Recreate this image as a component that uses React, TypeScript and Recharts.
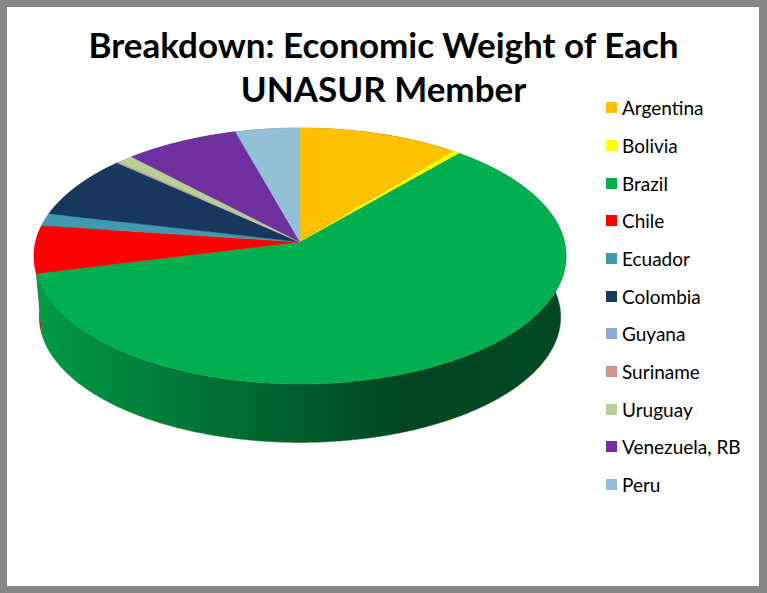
import React from "react";
import { PieChart, Pie, Legend } from "recharts";

const names = ["Argentina", "Bolivia", "Brazil", "Chile", "Ecuador", "Colombia", "Guyana", "Suriname", "Uruguay", "Venezuela, RB", "Peru"];
const shares = [10.8, 0.5, 59.8, 6.0, 1.6, 8.0, 0.05, 0.1, 1.1, 7.7, 4.35];
const colors = ["#FFC000", "#FFFF00", "#00B050", "#FF0000", "#4198AF", "#17375E", "#8EA9CF", "#D19392", "#B9CD96", "#7030A0", "#93C0D5"];

const data = names.map((name, i) => ({ name, value: shares[i], fill: colors[i] }));
// walls get painted back to front so Brazil ends up over Chile's sliver
const wallData = [...data].reverse();

// pie tilt
const SQUASH = 128 / 266;
const APEX_SHIFT = 14 / 128;
const DEPTH = 61;
const BOTTOM_SCALE = 0.98;

// circle -> tilted ellipse, with the centre pushed back a bit for perspective
function rimPoint(cx: number, cy: number, r: number, deg: number) {
  const t = (deg * Math.PI) / 180;
  const u = Math.sin(t);
  const v = Math.cos(t);
  const d = 1 + APEX_SHIFT * v;
  const X = (u * Math.sqrt(1 - APEX_SHIFT * APEX_SHIFT)) / d;
  const Y = (v + APEX_SHIFT) / d;
  return [cx + r * X, cy - r * SQUASH * Y];
}

function arcPoints(cx: number, cy: number, r: number, from: number, to: number) {
  const pts: number[][] = [];
  const steps = Math.max(2, Math.ceil((to - from) / 0.5));
  for (let i = 0; i <= steps; i++) pts.push(rimPoint(cx, cy, r, from + ((to - from) * i) / steps));
  return pts;
}

const toPath = (pts: number[][]) => "M" + pts.map((p) => `${p[0].toFixed(2)},${p[1].toFixed(2)}`).join("L") + "Z";

function shade(hex: string, k: number) {
  const n = parseInt(hex.slice(1), 16);
  const c = [(n >> 16) & 255, (n >> 8) & 255, n & 255].map((v) => Math.round(v * k));
  return `rgb(${c.join(",")})`;
}

function angles(props: any) {
  const a = 90 - Math.max(props.startAngle, props.endAngle);
  const b = 90 - Math.min(props.startAngle, props.endAngle);
  return [a, b];
}

function TopFace(props: any) {
  const { cx, cy, outerRadius, fill } = props;
  const [a, b] = angles(props);
  const apex = [cx, cy - outerRadius * SQUASH * APEX_SHIFT];
  const d = toPath([apex, ...arcPoints(cx, cy, outerRadius, a, b)]);
  return <path d={d} fill={fill} stroke={fill} strokeWidth={0.4} />;
}

function WallFace(props: any) {
  const { cx, cy, outerRadius, fill, name } = props;
  const [a, b] = angles(props);
  const top = arcPoints(cx, cy, outerRadius, a, b);
  const bottom = arcPoints(cx, cy + DEPTH, outerRadius * BOTTOM_SCALE, a, b).reverse();
  const id = "wall-" + String(name).replace(/\W/g, "");
  return (
    <g>
      <defs>
        <linearGradient id={id} gradientUnits="userSpaceOnUse" x1={cx - outerRadius} x2={cx + outerRadius} y1={0} y2={0}>
          <stop offset="0" stopColor={shade(fill, 0.88)} />
          <stop offset="0.69" stopColor={shade(fill, 0.4)} />
          <stop offset="1" stopColor={shade(fill, 0.42)} />
        </linearGradient>
      </defs>
      <path d={toPath([...top, ...bottom])} fill={`url(#${id})`} stroke={`url(#${id})`} strokeWidth={0.4} />
    </g>
  );
}

function LegendList({ payload }: any) {
  // two pies feed the legend, keep one entry per country in data order
  const items = names.map((n) => (payload || []).find((p: any) => p.value === n)).filter(Boolean);
  return (
    <div>
      {items.map((item: any) => (
        <div key={item.value} style={{ display: "flex", alignItems: "center", height: 37.7 }}>
          <span style={{ width: 11, height: 11, background: item.color, marginRight: 5, flex: "none" }} />
          <span style={{ whiteSpace: "nowrap" }}>{item.value}</span>
        </div>
      ))}
    </div>
  );
}

export default function App() {
  return (
    <div style={{ position: "relative", width: 767, height: 593, background: "#fff", fontFamily: "Lato, sans-serif", overflow: "hidden" }}>
      <style>{"body{margin:0}"}</style>
      <div style={{ position: "absolute", inset: 0, boxSizing: "border-box", borderStyle: "solid", borderColor: "#868686", borderWidth: "7px 8px 7px 7px" }} />
      <div style={{ position: "absolute", left: 0, top: 22, width: 767, textAlign: "center", fontSize: 35, fontWeight: 700, lineHeight: "44px", color: "#000" }}>
        <div>Breakdown: Economic Weight of Each</div>
        <div>UNASUR Member</div>
      </div>
      <div style={{ position: "absolute", left: 0, top: 0 }}>
        <PieChart width={767} height={593} margin={{ top: 0, right: 0, bottom: 0, left: 0 }}>
          <Pie
            data={wallData}
            dataKey="value"
            nameKey="name"
            cx={300}
            cy={256}
            outerRadius={266}
            startAngle={-270}
            endAngle={90}
            legendType="none"
            isAnimationActive={false}
            shape={WallFace}
            activeShape={WallFace}
            inactiveShape={WallFace}
          />
          <Pie
            data={data}
            dataKey="value"
            nameKey="name"
            cx={300}
            cy={256}
            outerRadius={266}
            startAngle={90}
            endAngle={-270}
            isAnimationActive={false}
            shape={TopFace}
            activeShape={TopFace}
            inactiveShape={TopFace}
          />
          <Legend
            layout="vertical"
            content={<LegendList />}
            wrapperStyle={{ position: "absolute", left: 606, top: 88.8, width: 150, fontSize: 19, color: "#000" }}
          />
        </PieChart>
      </div>
    </div>
  );
}
